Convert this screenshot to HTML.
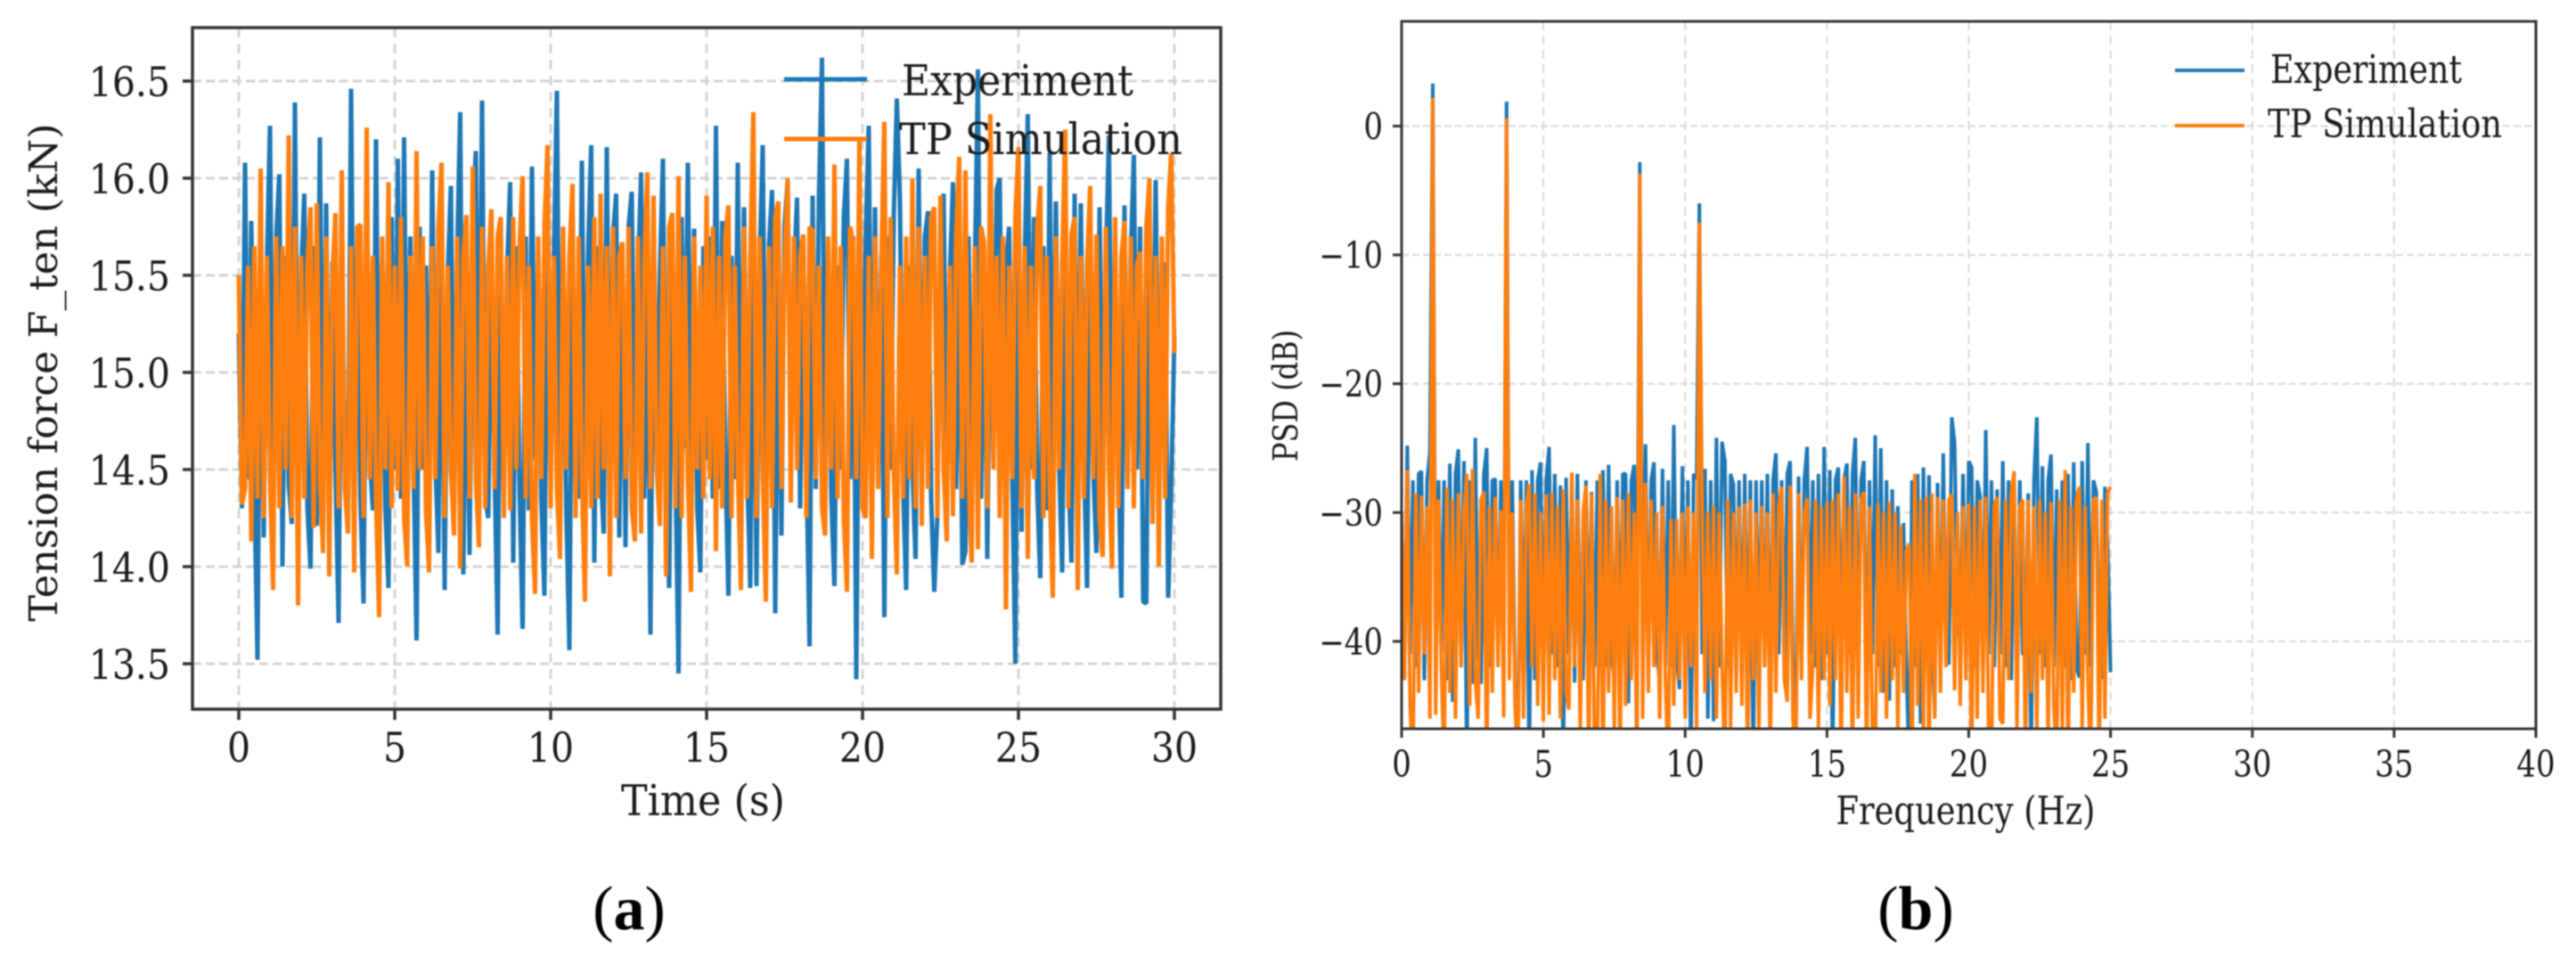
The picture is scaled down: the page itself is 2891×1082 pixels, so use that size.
<!DOCTYPE html>
<html lang="en">
<head>
<meta charset="utf-8">
<title>Tension force time history and PSD</title>
<style>
  html,body{margin:0;padding:0;background:#fff;}
  body{width:2891px;height:1082px;overflow:hidden;}
  svg{display:block;filter:blur(0.7px);}
  text{font-family:"DejaVu Serif","Liberation Serif",serif;fill:#1c1c1c;}
  .cap{font-family:"Liberation Serif",serif;fill:#000;}
</style>
</head>
<body>
<svg id="figure" xmlns="http://www.w3.org/2000/svg" width="2891" height="1082" viewBox="0 0 2891 1082">
  <defs>
    <clipPath id="clip-a"><rect x="216" y="31" width="1154" height="765"/></clipPath>
    <clipPath id="clip-b"><rect x="1573" y="24" width="1273" height="794"/></clipPath>
  </defs>

  <g id="panel-a">
    <g id="grid-a"></g>
    <g id="series-a" clip-path="url(#clip-a)"></g>
    <g id="ticks-a"></g>
    <rect x="216" y="31" width="1154" height="765" fill="none" stroke="#333" stroke-width="3.5"/>
    <text font-size="44" text-anchor="middle" textLength="184" lengthAdjust="spacingAndGlyphs" transform="translate(789,915) scale(1,1.08)">Time (s)</text>
    <text font-size="44" text-anchor="middle" textLength="559" lengthAdjust="spacingAndGlyphs" transform="translate(64,418) rotate(-90)">Tension force F_ten (kN)</text>
    <g>
      <line x1="880" x2="973" y1="89" y2="89" stroke="#1f77b4" stroke-width="5"/>
      <text font-size="44" textLength="260" lengthAdjust="spacingAndGlyphs" transform="translate(1012,107) scale(1,1.08)">Experiment</text>
      <line x1="880" x2="973" y1="156" y2="156" stroke="#ff7f0e" stroke-width="5"/>
      <text font-size="45" textLength="318" lengthAdjust="spacingAndGlyphs" transform="translate(1009,173) scale(1,1.08)">TP Simulation</text>
    </g>
    <text class="cap" font-size="70" text-anchor="middle" transform="translate(706,1043)">(<tspan font-weight="bold">a</tspan>)</text>
  </g>

  <g id="panel-b">
    <g id="grid-b"></g>
    <g id="series-b" clip-path="url(#clip-b)"></g>
    <g id="ticks-b"></g>
    <rect x="1573" y="24" width="1273" height="794" fill="none" stroke="#333" stroke-width="3"/>
    <text font-size="37" text-anchor="middle" textLength="291" lengthAdjust="spacingAndGlyphs" transform="translate(2206,925) scale(1,1.18)">Frequency (Hz)</text>
    <text font-size="38" text-anchor="middle" textLength="148" lengthAdjust="spacingAndGlyphs" transform="translate(1456,444) rotate(-90)">PSD (dB)</text>
    <g>
      <line x1="2441" x2="2519" y1="79" y2="79" stroke="#1f77b4" stroke-width="4"/>
      <text font-size="37" textLength="215" lengthAdjust="spacingAndGlyphs" transform="translate(2548,93) scale(1,1.18)">Experiment</text>
      <line x1="2441" x2="2519" y1="141" y2="141" stroke="#ff7f0e" stroke-width="4"/>
      <text font-size="37" textLength="263" lengthAdjust="spacingAndGlyphs" transform="translate(2545,154) scale(1,1.18)">TP Simulation</text>
    </g>
    <text class="cap" font-size="70" text-anchor="middle" transform="translate(2150,1043)">(<tspan font-weight="bold">b</tspan>)</text>
  </g>
</svg>

<script>
// Panel (a): tension force sampled every 0.1 s, values in kN
const timeStep = 0.1;
const timeTicks = [0, 5, 10, 15, 20, 25, 30];
const forceTicks = [13.5, 14.0, 14.5, 15.0, 15.5, 16.0, 16.5];
const forceExperiment = [
15.20,14.30,16.08,14.45,15.78,14.40,13.52,15.70,14.15,15.55,
16.27,14.35,15.70,16.02,14.00,15.60,14.42,14.22,16.39,14.35,
15.50,15.92,14.30,13.99,15.65,14.21,16.21,14.32,15.87,14.28,
15.57,14.50,13.71,15.75,14.55,14.25,16.46,14.40,15.65,14.35,
13.81,15.70,14.55,14.29,16.20,14.45,15.60,14.30,13.89,15.80,
14.50,16.10,14.35,16.21,14.40,15.70,14.55,13.62,15.75,14.50,
15.55,14.35,16.04,14.55,14.07,15.80,13.88,15.50,15.96,14.42,
15.60,16.34,13.96,15.40,14.06,15.70,16.14,14.45,16.40,14.35,
14.25,15.55,14.50,13.65,15.75,14.55,15.50,15.98,14.02,15.65,
14.40,13.68,15.70,14.29,16.06,14.55,15.60,14.35,13.85,15.80,
14.50,15.55,16.45,14.40,15.50,14.30,13.57,15.70,14.55,14.35,
16.09,14.45,15.60,16.17,14.02,15.65,14.50,14.17,16.16,14.40,
15.70,15.92,14.15,15.55,14.10,15.75,15.93,14.50,15.50,16.03,
14.35,15.60,13.65,15.70,14.55,15.50,16.10,14.30,13.89,15.70,
14.50,13.45,15.80,14.61,16.08,14.50,15.74,14.30,13.97,15.65,
14.55,15.70,14.35,16.27,14.40,15.78,14.55,13.85,15.60,14.45,
16.08,14.35,15.85,14.50,13.89,15.70,13.90,15.55,16.17,14.40,
15.65,15.94,13.76,15.50,14.16,15.75,15.99,14.50,15.50,15.90,
14.30,15.70,14.55,13.59,15.91,14.40,15.88,16.62,14.50,15.60,
14.35,13.90,15.55,14.50,15.80,16.10,14.45,15.70,13.42,15.50,
14.50,15.70,16.27,14.35,15.85,14.55,15.60,13.74,15.70,14.50,
15.80,16.41,15.89,14.40,13.88,15.55,14.50,14.04,16.05,14.45,
15.70,15.83,14.35,13.87,14.26,15.65,15.92,14.50,15.50,15.98,
14.40,15.60,14.01,14.08,15.70,14.55,15.50,16.56,14.35,15.65,
14.04,15.70,14.50,15.94,16.00,14.45,15.55,15.75,14.50,13.50,
15.70,14.18,15.60,16.33,14.50,15.80,14.40,13.94,15.65,14.29,
16.13,14.45,15.88,14.55,13.97,15.70,14.50,14.02,15.92,14.40,
15.87,14.55,13.89,15.70,14.50,14.07,15.85,14.50,15.55,16.22,
14.45,15.65,14.55,13.84,15.86,14.41,15.60,16.12,14.50,15.75,
13.82,13.81,15.70,14.50,15.99,14.50,15.55,15.56,13.84,14.40,15.19
];
const forceSimulation = [
15.50,14.32,14.40,15.55,14.13,15.65,14.35,16.05,14.25,15.60,
14.45,13.88,15.70,14.30,15.65,14.50,16.22,14.25,15.75,13.80,
15.60,14.35,15.55,15.85,14.20,15.87,14.45,14.07,15.70,13.95,
15.50,15.82,14.30,16.04,14.40,14.17,15.65,13.97,15.75,15.76,
14.25,16.26,14.45,15.60,14.35,13.74,15.70,14.50,15.98,14.30,
15.55,14.39,15.80,14.25,14.00,15.60,14.40,16.14,14.50,15.70,
14.30,13.97,15.65,14.45,15.75,16.08,14.25,15.55,14.50,14.16,
15.70,13.99,15.60,15.81,14.35,16.06,14.45,14.10,15.75,14.30,
15.55,15.84,14.40,15.70,15.80,14.25,15.60,14.29,15.80,14.50,
15.65,16.01,14.35,15.55,14.25,13.86,15.70,14.45,15.75,16.17,
14.30,15.60,14.40,14.04,15.75,14.50,15.60,15.97,14.25,15.70,
14.45,13.82,15.55,14.30,15.80,14.35,15.92,14.50,15.65,13.95,
15.75,14.25,15.60,15.67,14.45,15.75,14.30,14.13,15.70,14.17,
15.55,16.03,14.40,15.91,14.50,14.21,15.65,13.95,15.75,15.82,
14.30,16.01,14.25,15.60,14.45,13.87,15.70,14.50,15.55,14.35,
15.91,14.45,15.75,14.08,15.60,14.30,15.70,15.86,14.25,15.55,
14.50,13.88,15.75,14.35,15.60,16.34,14.25,15.70,14.45,13.82,
15.65,14.30,15.80,15.88,14.40,15.55,16.00,14.33,15.70,14.50,
15.60,15.71,14.25,15.75,15.73,14.45,15.55,14.30,14.16,15.70,
14.50,16.07,14.35,15.65,14.25,13.87,15.75,15.67,14.45,16.20,
14.30,14.25,15.60,14.04,15.70,14.40,15.55,16.29,14.25,15.80,
14.50,13.96,15.55,14.35,15.70,14.45,16.00,14.30,15.75,14.21,
15.60,14.40,15.80,15.85,14.25,15.91,14.50,14.13,15.55,14.26,
15.70,16.11,14.35,16.04,14.45,14.02,15.65,14.09,15.75,15.67,
14.30,16.33,14.50,15.60,14.25,15.70,13.78,15.55,14.45,15.80,
16.16,14.30,15.65,14.04,15.55,14.45,15.75,15.96,14.25,15.60,
14.40,13.84,15.70,14.50,15.55,16.25,14.30,15.71,15.80,13.88,
15.60,14.35,15.55,15.96,14.45,15.71,14.25,14.05,15.75,14.50,
13.99,15.80,14.30,15.60,15.78,14.40,15.70,14.30,15.55,15.62,
14.45,15.75,16.00,14.22,15.60,14.00,15.70,14.35,15.85,16.13,15.10
];

// Panel (b): power spectral density sampled every 0.1 Hz, values in dB
const freqStep = 0.1;
const freqTicks = [0, 5, 10, 15, 20, 25, 30, 35, 40];
const psdTicks = [-40, -30, -20, -10, 0];
const psdExperiment = [
-30,-42.6,-24.8,-41,-27.5,-42,-27,-26.8,-43,-27.5,
-25.3,3.3,-42,-27.5,-41,-27.5,-43,-26.2,-44.7,-27,
-25.1,-42,-26,-50,-27.5,-43.3,-24.2,-41,-43.3,-27,
-25,-42,-27.5,-27.4,-41,-27.5,-43,1.9,-41,-27.5,
-43,-50,-27.5,-41,-27.5,-50,-26.7,-43,-27.5,-26.1,
-41,-27.5,-24.9,-41,-27,-42,-27.9,-50,-27.3,-41,
-27.5,-43.2,-27,-42,-43,-27.5,-41,-28.4,-42,-27.5,
-42,-26.7,-42,-26.3,-41,-43,-27.5,-42,-27,-27,
-44.8,-27.5,-26.3,-42,-2.8,-41,-24.7,-42,-27.5,-26.1,
-41,-43.1,-26.6,-42,-27.5,-42,-23.2,-41,-43.7,-26.4,
-41,-27.5,-50,-27,-27.4,-6,-41,-26.6,-46,-27.5,
-46.2,-24.2,-42,-24.5,-26,-42,-27,-27.8,-41,-27.5,
-42,-27,-43,-27.5,-50,-27.5,-41,-27.5,-42,-27,
-44.6,-27.5,-25.4,-41,-27.5,-42,-27,-26,-42,-46,
-27.2,-42,-27.5,-24.9,-41,-27.5,-42,-27,-43,-24.9,
-41,-26.7,-50,-27.5,-26.5,-42,-27.5,-26.2,-41,-27,
-24.2,-42,-27.5,-26,-46.4,-27.5,-41,-24,-42,-25,
-44,-27.5,-44.6,-28.2,-42,-29.5,-41,-30.8,-42,-50,
-27.5,-42,-27,-46.4,-26.5,-41,-27.1,-40,-45.5,-27.7,
-42,-25.4,-41,-41.8,-22.6,-24.6,-38,-40.6,-27,-41,
-26,-26.5,-42,-27.5,-28.7,-42,-23.6,-41,-27.5,-42,
-28.2,-41,-26,-42,-27.5,-43,-27.5,-45.1,-27.5,-41,
-41,-28.5,-50,-27.5,-22.6,-41,-26.4,-42,-27.5,-25.5,
-42,-28.2,-41,-27.5,-42,-27,-43,-26.1,-42,-42.8,
-26,-41,-24.6,-42,-27.5,-28.4,-41,-42.9,-28,-32.4,-42.4
];
const psdSimulation = [
-30,-43,-26.7,-45,-50,-28.5,-44,-28.7,-41,-29.5,
-46,2.2,-45.7,-29,-42,-50,-28.1,-44,-29,-46,
-28.5,-42,-30,-27,-45,-26.6,-43,-46,-29,-28.4,
-50,-29.5,-44,-28.8,-42,-29.8,-45.9,0.6,-43,-30,
-45,-50,-29,-46,-29.5,-27.8,-42,-28.5,-45,-30,
-46.2,-28.6,-45.7,-28.5,-43,-29.5,-46,-28.2,-44,-45.3,
-26.9,-42,-29,-47,-30,-27.9,-50,-28.5,-48,-50,
-27,-50,-29,-44,-29.5,-47,-28.8,-50,-29,-45,
-28.5,-43,-30,-50,-3.7,-46,-27.7,-44,-29,-42,
-30,-46,-29.5,-43,-50,-30.5,-45,-30.5,-43,-30,
-46,-29.5,-42,-30,-47,-7.5,-29.8,-44,-30,-43,
-29.5,-46,-30,-42,-50,-29,-47,-30,-44,-29.5,
-45,-29.3,-50,-29,-43,-30,-47,-29.5,-42,-30,
-50,-28.5,-44,-29.5,-28,-43,-44.7,-27.9,-46,-50,
-28.5,-43,-30,-28.9,-46,-42,-29,-47,-29.5,-43,
-29.2,-45,-29,-43,-28.5,-50,-27.2,-44,-29.5,-50,
-28.5,-46,-29,-28.4,-50,-29.5,-47,-50,-29.3,-44,
-30,-46,-29.2,-43,-30,-47,-31,-44,-33,-32.4,
-50,-27,-45,-29,-47,-28.8,-50,-28.5,-46,-28.8,
-44,-29,-42,-29,-28.6,-43.8,-30,-45,-29.5,-43,
-29.3,-50,-29.5,-46,-29,-44,-28.8,-47,-50,-29.5,
-28.8,-46,-46.4,-29,-43,-28.5,-26.8,-47,-29.5,-29,
-50,-29,-44,-29.5,-47,-29,-43,-30,-48,-29.2,
-45,-50,-29,-47,-26.7,-50,-29.5,-44,-29,-28,
-47,-29.5,-43,-50,-29,-28.8,-50,-29,-46,-28.5,-28
];

const SVGNS = 'http://www.w3.org/2000/svg';

// Axis functions
function xTime(t){ return 268 + t * 35; }
function yForce(v){ return 418 - (v - 15) * 218; }
function xFreq(f){ return 1573 + f * 31.825; }
function yPsd(d){ return 141.5 - d * 14.46; }

function makeLine(parent, x1, y1, x2, y2, stroke, width, dash){
  const l = document.createElementNS(SVGNS, 'line');
  l.setAttribute('x1', x1);
  l.setAttribute('y1', y1);
  l.setAttribute('x2', x2);
  l.setAttribute('y2', y2);
  l.setAttribute('stroke', stroke);
  l.setAttribute('stroke-width', width);
  if (dash) l.setAttribute('stroke-dasharray', dash);
  parent.appendChild(l);
  return l;
}

function makeLabel(parent, str, x, y, size, anchor, stretch){
  const t = document.createElementNS(SVGNS, 'text');
  t.setAttribute('font-size', size);
  t.setAttribute('text-anchor', anchor);
  t.setAttribute('transform', 'translate(' + x + ',' + y + ') scale(1,' + stretch + ')');
  t.textContent = str;
  parent.appendChild(t);
  return t;
}

function makeSeries(parent, values, step, xFn, yFn, color, width){
  const pts = values.map(function(v, i){
    return xFn(i * step).toFixed(1) + ',' + yFn(v).toFixed(1);
  }).join(' ');
  const p = document.createElementNS(SVGNS, 'polyline');
  p.setAttribute('points', pts);
  p.setAttribute('fill', 'none');
  p.setAttribute('stroke', color);
  p.setAttribute('stroke-width', width);
  p.setAttribute('stroke-linejoin', 'bevel');
  parent.appendChild(p);
  return p;
}

function fmtNeg(v){ return String(v).replace('-', '\u2212'); }

// Panel (a) grid, ticks, series
const gridA = document.getElementById('grid-a');
const ticksA = document.getElementById('ticks-a');
const seriesA = document.getElementById('series-a');

timeTicks.forEach(function(t){
  const g = makeLine(gridA, xTime(t), 31, xTime(t), 796, '#d4d4d4', 3, '11 7');
  
  
  const m = makeLine(ticksA, xTime(t), 796, xTime(t), 808, '#333', 3.5);
  
  
  const lbl = makeLabel(ticksA, String(t), xTime(t), 855, 41, 'middle', 1.12);
  
  
});
forceTicks.forEach(function(v){
  const g = makeLine(gridA, 216, yForce(v), 1370, yForce(v), '#d4d4d4', 3, '10 5');
  
  
  const m = makeLine(ticksA, 205, yForce(v), 216, yForce(v), '#333', 3.5);
  
  
  const lbl = makeLabel(ticksA, v.toFixed(1), 191, yForce(v) + 17, 41, 'end', 1.12);
  
  
});
const lineForceExp = makeSeries(seriesA, forceExperiment, timeStep, xTime, yForce, '#1f77b4', 5);


const lineForceSim = makeSeries(seriesA, forceSimulation, timeStep, xTime, yForce, '#ff7f0e', 5);



// Panel (b) grid, ticks, series
const gridB = document.getElementById('grid-b');
const ticksB = document.getElementById('ticks-b');
const seriesB = document.getElementById('series-b');

freqTicks.forEach(function(f){
  const g = makeLine(gridB, xFreq(f), 24, xFreq(f), 818, '#d8d8d8', 2, '10 6');
  
  
  const m = makeLine(ticksB, xFreq(f), 818, xFreq(f), 828, '#333', 3);
  
  
  const lbl = makeLabel(ticksB, String(f), xFreq(f), 872, 34, 'middle', 1.2);
  
  
});
psdTicks.forEach(function(d){
  const g = makeLine(gridB, 1573, yPsd(d), 2846, yPsd(d), '#d8d8d8', 2, '8 4');
  
  
  const m = makeLine(ticksB, 1563, yPsd(d), 1573, yPsd(d), '#333', 3);
  
  
  const lbl = makeLabel(ticksB, fmtNeg(d), 1552, yPsd(d) + 15, 34, 'end', 1.2);
  
  
});
const linePsdExp = makeSeries(seriesB, psdExperiment, freqStep, xFreq, yPsd, '#1f77b4', 4);


const linePsdSim = makeSeries(seriesB, psdSimulation, freqStep, xFreq, yPsd, '#ff7f0e', 4);


</script>
</body>
</html>
